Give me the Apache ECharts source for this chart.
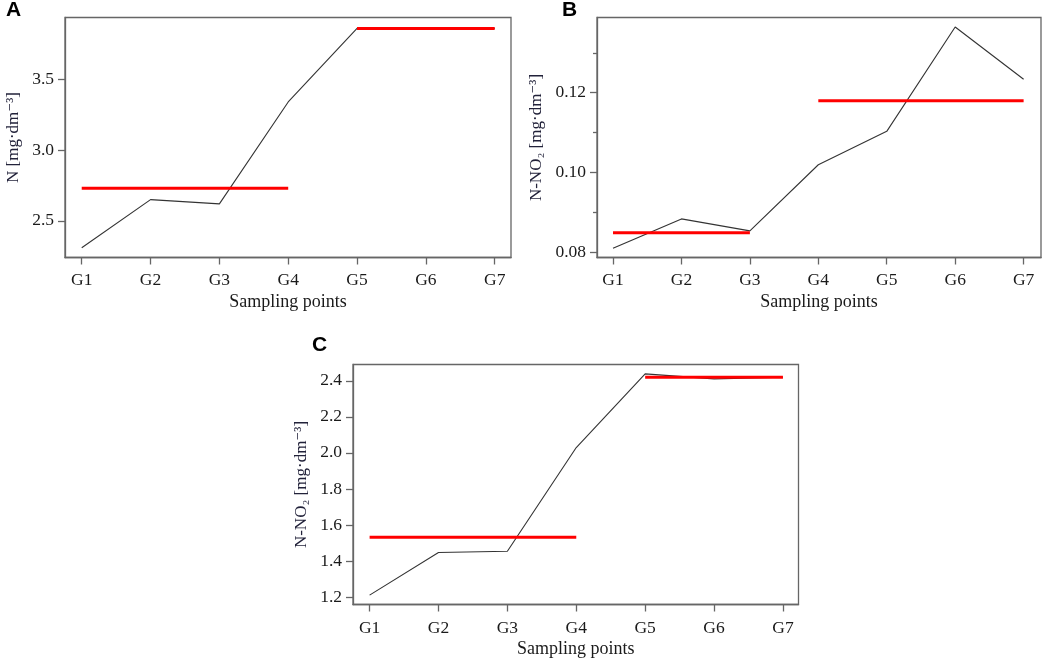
<!DOCTYPE html>
<html>
<head>
<meta charset="utf-8">
<script src="https://cdn.jsdelivr.net/npm/echarts@6/dist/echarts.min.js"></script>
<style>
  html, body { margin: 0; padding: 0; background: #fff; }
  #chart { width: 1045px; height: 661px; }
</style>
</head>
<body>
<div id="chart"></div>
<script>
// sampling points on the x axis
const points = ['G1', 'G2', 'G3', 'G4', 'G5', 'G6', 'G7'];
const pointIdx = [1, 2, 3, 4, 5, 6, 7];

// panel A: total N
const nTotal = [2.31, 2.65, 2.62, 3.34, 3.86, 3.86, 3.86];
const nTotalMeans = [2.73, 3.86];
const nTotalGroups = [[1, 4], [5, 7]];
const nTotalTicks = [2.5, 3.0, 3.5];

// panel B: N-NO2
const no2B = [0.0809, 0.0883, 0.0853, 0.1019, 0.1103, 0.1365, 0.1234];
const no2BMeans = [0.0848, 0.118];
const no2BGroups = [[1, 3], [4, 7]];
const no2BTicks = [0.08, 0.10, 0.12];
const no2BMinorTicks = [0.09, 0.11, 0.13];

// panel C: N-NO2
const no2C = [1.21, 1.447, 1.454, 2.03, 2.439, 2.411, 2.42];
const no2CMeans = [1.532, 2.42];
const no2CGroups = [[1, 4], [5, 7]];
const no2CTicks = [1.2, 1.4, 1.6, 1.8, 2.0, 2.2, 2.4];

const serif = "'Liberation Serif', 'Times New Roman', 'DejaVu Serif', serif";
const axisColor = '#666';
const textColor = '#1a1a1a';

const chart = echarts.init(document.getElementById('chart'));

function xAxis(gridIndex, min, max, labelMargin) {
  return {
    type: 'value', gridIndex: gridIndex, min: min, max: max,
    name: 'Sampling points', nameLocation: 'middle', nameGap: 36,
    nameTextStyle: { fontFamily: serif, fontSize: 18, color: textColor },
    axisLine: { show: true, lineStyle: { color: axisColor, width: 1.3 } },
    axisTick: { show: true, length: 7, customValues: pointIdx, lineStyle: { color: axisColor, width: 1.3 } },
    axisLabel: {
      customValues: pointIdx, margin: labelMargin,
      fontFamily: serif, fontSize: 17.5, color: textColor,
      formatter: v => points[Math.round(v) - 1]
    },
    splitLine: { show: false }
  };
}

function yAxis(gridIndex, min, max, ticks, digits, name, nameGap) {
  return {
    type: 'value', gridIndex: gridIndex, min: min, max: max, position: 'left',
    name: name, nameLocation: 'middle', nameGap: nameGap,
    nameTextStyle: { fontFamily: serif, fontSize: 17, color: '#22223a' },
    axisLine: { show: true, lineStyle: { color: axisColor, width: 1.3 } },
    axisTick: { show: true, length: 7, customValues: ticks, lineStyle: { color: axisColor, width: 1.3 } },
    axisLabel: {
      customValues: ticks, margin: 11,
      fontFamily: serif, fontSize: 17.5, color: textColor,
      formatter: v => v.toFixed(digits)
    },
    splitLine: { show: false }
  };
}

function lineSeries(axisIndex, values) {
  return {
    type: 'line', xAxisIndex: axisIndex, yAxisIndex: axisIndex,
    data: values.map((v, i) => [pointIdx[i], v]),
    symbol: 'none', silent: true, z: 2,
    lineStyle: { color: '#333', width: 1.1 }
  };
}

function meanSeries(axisIndex, means, groups) {
  return means.map((m, i) => ({
    type: 'line', xAxisIndex: axisIndex, yAxisIndex: axisIndex,
    data: [[groups[i][0], m], [groups[i][1], m]],
    symbol: 'none', silent: true, z: 3,
    lineStyle: { color: '#ff0000', width: 3 }
  }));
}

const option = {
  animation: false,
  backgroundColor: '#fff',
  grid: [
    { left: 65, top: 17.5, width: 446, height: 240, show: true, borderColor: axisColor, borderWidth: 1.3 },
    { left: 597, top: 17.5, width: 444, height: 240, show: true, borderColor: axisColor, borderWidth: 1.3 },
    { left: 353, top: 364.5, width: 445.5, height: 240, show: true, borderColor: axisColor, borderWidth: 1.3 }
  ],
  xAxis: [
    xAxis(0, 0.757, 7.237, 14),
    xAxis(1, 0.766, 7.254, 14),
    xAxis(2, 0.759, 7.226, 15)
  ],
  yAxis: [
    yAxis(0, 2.241, 3.937, nTotalTicks, 1, 'N [mg·dm⁻³]', 43),
    yAxis(1, 0.0786, 0.1389, no2BTicks, 2, 'N-NO₂ [mg·dm⁻³]', 52),
    yAxis(2, 1.158, 2.491, no2CTicks, 1, 'N-NO₂ [mg·dm⁻³]', 43),
    {
      type: 'value', gridIndex: 1, min: 0.0786, max: 0.1389, position: 'left', offset: 0,
      axisLine: { show: false },
      axisTick: { show: true, length: 4, customValues: no2BMinorTicks, lineStyle: { color: axisColor, width: 1.3 } },
      axisLabel: { show: false },
      splitLine: { show: false }
    }
  ],
  series: [
    lineSeries(0, nTotal),
    ...meanSeries(0, nTotalMeans, nTotalGroups),
    lineSeries(1, no2B),
    ...meanSeries(1, no2BMeans, no2BGroups),
    lineSeries(2, no2C),
    ...meanSeries(2, no2CMeans, no2CGroups)
  ],
  graphic: [
    { type: 'text', left: 6, top: 0, style: { text: 'A', font: "bold 21px 'Liberation Sans', Arial, sans-serif", fill: '#000' } },
    { type: 'text', left: 562, top: 0, style: { text: 'B', font: "bold 21px 'Liberation Sans', Arial, sans-serif", fill: '#000' } },
    { type: 'text', left: 312, top: 335, style: { text: 'C', font: "bold 21px 'Liberation Sans', Arial, sans-serif", fill: '#000' } }
  ]
};

chart.setOption(option);
</script>
</body>
</html>
